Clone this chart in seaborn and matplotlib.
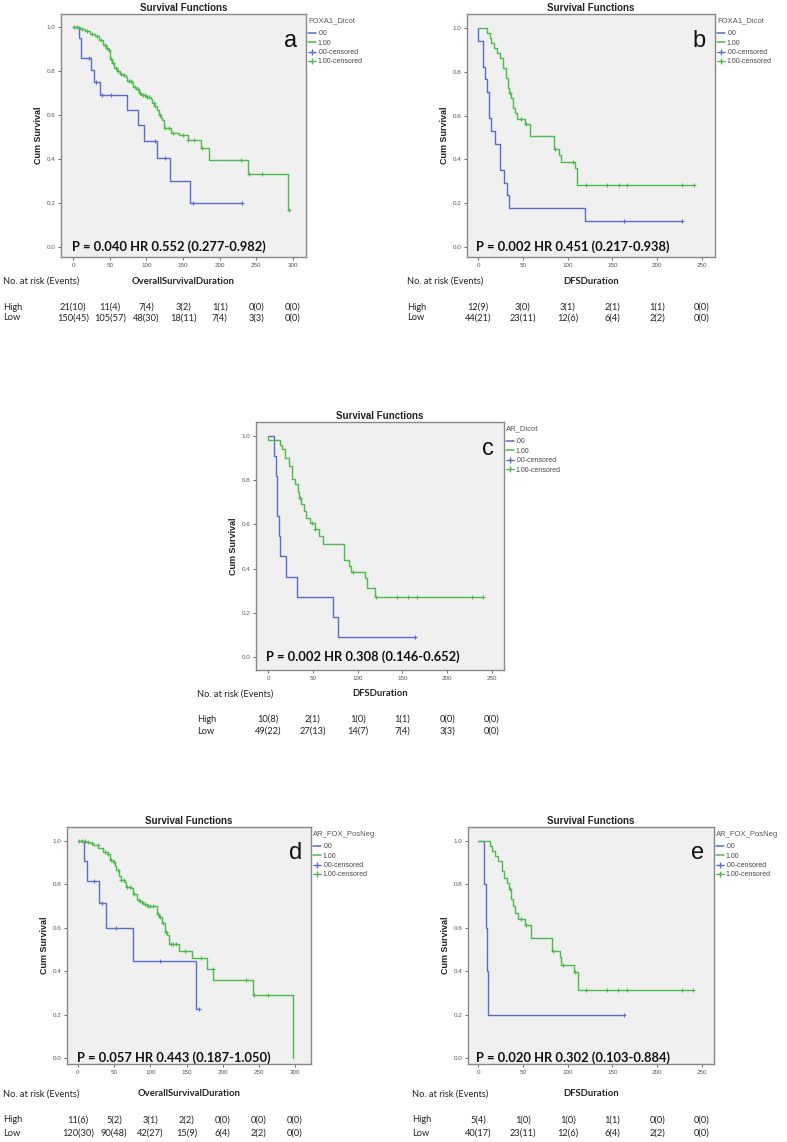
import numpy as np
import pandas as pd
import matplotlib
matplotlib.use("Agg")
import matplotlib.pyplot as plt
import seaborn as sns
from matplotlib.lines import Line2D
from matplotlib import transforms

sns.set_theme(style="white")
plt.rcParams['font.family'] = ['Liberation Sans', 'DejaVu Sans']

# ------------------------------------------------------------------ data
# Panel a (Overall survival, FOXA1_Dicot)
a_blue_t = [8, 11, 24, 28, 37, 74, 89, 97, 115, 132, 160]
a_blue_s = [0.952, 0.857, 0.805, 0.752, 0.693, 0.623, 0.556, 0.483, 0.405, 0.302, 0.201]
a_blue_c = [22, 31, 39, 52, 112, 126, 164, 230]
a_green_t = [9, 16, 23, 30, 36, 41, 45, 48, 50, 51, 53, 56, 60, 64, 68, 72, 74, 80, 82, 86,
             90, 93, 100, 106, 108, 111, 114, 117, 120, 122, 124, 134, 145, 157, 174, 185, 239, 293]
a_green_s = [0.991, 0.98, 0.968, 0.957, 0.939, 0.919, 0.904, 0.894, 0.877, 0.854, 0.836, 0.813,
             0.802, 0.787, 0.783, 0.772, 0.755, 0.745, 0.726, 0.717, 0.702, 0.691, 0.684, 0.672,
             0.653, 0.641, 0.623, 0.600, 0.585, 0.578, 0.540, 0.517, 0.509, 0.486, 0.448, 0.395,
             0.334, 0.167]
a_green_c = [2, 5, 12, 19, 26, 33, 38, 43, 46, 49, 52, 55, 58, 62, 66, 70, 76, 79, 84, 88, 92,
             95, 98, 101, 104, 110, 112, 118, 126, 131, 137, 150, 157, 165, 176, 229, 240, 258, 295]

# Panel b (DFS, FOXA1_Dicot)
b_blue_t = [0, 6, 8, 10, 12, 14, 19, 25, 29, 32, 35, 119]
b_blue_s = [0.941, 0.824, 0.765, 0.706, 0.588, 0.529, 0.471, 0.353, 0.294, 0.235, 0.176, 0.118]
b_blue_c = [163, 228]
b_green_t = [10, 13, 15, 18, 21, 24, 28, 31, 34, 35, 37, 39, 41, 44, 52, 58, 85, 90, 93, 108, 111]
b_green_s = [0.977, 0.955, 0.932, 0.909, 0.886, 0.864, 0.818, 0.773, 0.727, 0.705, 0.68, 0.633,
             0.61, 0.585, 0.56, 0.508, 0.448, 0.42, 0.39, 0.36, 0.285]
b_green_c = [36, 48, 53, 86, 106, 120, 144, 157, 166, 228, 241]

# Panel c (DFS, AR_Dicot)
c_blue_t = [7, 9, 10, 10.5, 12, 13.4, 20, 32, 72, 78]
c_blue_s = [0.909, 0.818, 0.727, 0.636, 0.545, 0.455, 0.364, 0.273, 0.182, 0.091]
c_blue_c = [164]
c_green_t = [0, 13, 16, 19, 23, 27, 30, 33, 35, 37, 40, 42, 47, 52, 57, 61, 85, 90, 93, 108, 111, 119]
c_green_s = [0.98, 0.961, 0.941, 0.902, 0.863, 0.804, 0.784, 0.745, 0.72, 0.69, 0.66, 0.63,
             0.606, 0.58, 0.545, 0.512, 0.44, 0.41, 0.385, 0.355, 0.31, 0.27]
c_green_c = [36, 49, 53, 95, 120, 144, 156, 166, 228, 240]

# Panel d (Overall survival, AR_FOX_PosNeg)
d_blue_t = [8, 13, 29, 39, 76, 163]
d_blue_s = [0.909, 0.818, 0.716, 0.597, 0.448, 0.224]
d_blue_c = [22, 33, 53, 113, 167]
d_green_t = [10, 17, 21, 28, 35, 41, 44, 49, 51, 53, 56, 59, 64, 66, 73, 76, 81, 86, 90, 95,
             109, 112, 116, 120, 123, 126, 139, 157, 178, 187, 242, 297]
d_green_s = [0.996, 0.99, 0.983, 0.969, 0.95, 0.94, 0.914, 0.905, 0.883, 0.865, 0.838, 0.82,
             0.81, 0.79, 0.785, 0.755, 0.73, 0.72, 0.708, 0.70, 0.665, 0.65, 0.62, 0.582, 0.565,
             0.525, 0.495, 0.462, 0.412, 0.36, 0.289, 0.0]
d_green_c = [2, 5, 9, 14, 20, 27, 38, 42, 46, 50, 55, 60, 63, 68, 72, 78, 84, 88, 92, 97, 100,
             103, 110, 114, 118, 122, 128, 131, 135, 148, 170, 186, 232, 243, 263]

# Panel e (DFS, AR_FOX_PosNeg)
e_blue_t = [7, 9, 10, 11]
e_blue_s = [0.8, 0.6, 0.4, 0.2]
e_blue_c = [163]
e_green_t = [13, 16, 19, 22, 27, 29, 32, 35, 37, 39, 41, 45, 52, 59, 83, 91, 93, 107, 112]
e_green_s = [0.977, 0.955, 0.932, 0.909, 0.864, 0.83, 0.805, 0.78, 0.734, 0.7, 0.668, 0.642,
             0.614, 0.555, 0.495, 0.465, 0.43, 0.395, 0.315]
e_green_c = [36, 48, 53, 84, 95, 108, 121, 144, 156, 166, 228, 240]

# Numbers at risk tables
a_high = ["21(10)", "11(4)", "7(4)", "3(2)", "1(1)", "0(0)", "0(0)"]
a_low = ["150(45)", "105(57)", "48(30)", "18(11)", "7(4)", "3(3)", "0(0)"]
b_high = ["12(9)", "3(0)", "3(1)", "2(1)", "1(1)", "0(0)"]
b_low = ["44(21)", "23(11)", "12(6)", "6(4)", "2(2)", "0(0)"]
c_high = ["10(8)", "2(1)", "1(0)", "1(1)", "0(0)", "0(0)"]
c_low = ["49(22)", "27(13)", "14(7)", "7(4)", "3(3)", "0(0)"]
d_high = ["11(6)", "5(2)", "3(1)", "2(2)", "0(0)", "0(0)", "0(0)"]
d_low = ["120(30)", "90(48)", "42(27)", "15(9)", "6(4)", "2(2)", "0(0)"]
e_high = ["5(4)", "1(0)", "1(0)", "1(1)", "0(0)", "0(0)"]
e_low = ["40(17)", "23(11)", "12(6)", "6(4)", "2(2)", "0(0)"]

a_ticks = [0, 50, 100, 150, 200, 250, 300]
b_ticks = [0, 50, 100, 150, 200, 250]

legend_titles = ["FOXA1_Dicot", "FOXA1_Dicot", "AR_Dicot", "AR_FOX_PosNeg", "AR_FOX_PosNeg"]
group_labels = [".00", "1.00", ".00-censored", "1.00-censored"]
p_texts = ["P = 0.040 HR 0.552 (0.277-0.982)", "P = 0.002 HR 0.451 (0.217-0.938)",
           "P = 0.002 HR 0.308 (0.146-0.652)", "P = 0.057 HR 0.443 (0.187-1.050)",
           "P = 0.020 HR 0.302 (0.103-0.884)"]
letters = ["a", "b", "c", "d", "e"]
xlabels = ["OverallSurvivalDuration", "DFSDuration", "DFSDuration",
           "OverallSurvivalDuration", "DFSDuration"]

# ------------------------------------------------------------------ layout
W, H = 787, 1142
BLUE = "#5a6cca"
GREEN = "#4cbb4c"


def fy(px):
    return 1 - px / H


panels = [
    dict(box=(61, 14, 306, 257), xlim=(-16.4, 317.7), ylim=(-0.045, 1.059), ticks=a_ticks,
         blue=(a_blue_t, a_blue_s, a_blue_c), green=(a_green_t, a_green_s, a_green_c),
         high=a_high, low=a_low, rows=(281, 307, 318), labx=3),
    dict(box=(467, 14, 715, 257), xlim=(-12.3, 264.5), ylim=(-0.046, 1.064), ticks=b_ticks,
         blue=(b_blue_t, b_blue_s, b_blue_c), green=(b_green_t, b_green_s, b_green_c),
         high=b_high, low=b_low, rows=(281, 307, 318), labx=407),
    dict(box=(256, 422, 504, 670), xlim=(-13.4, 263.4), ylim=(-0.059, 1.063), ticks=b_ticks,
         blue=(c_blue_t, c_blue_s, c_blue_c), green=(c_green_t, c_green_s, c_green_c),
         high=c_high, low=c_low, rows=(694, 719, 731), labx=197),
    dict(box=(67, 827, 311, 1064), xlim=(-15.2, 322), ylim=(-0.028, 1.065), ticks=a_ticks,
         blue=(d_blue_t, d_blue_s, d_blue_c), green=(d_green_t, d_green_s, d_green_c),
         high=d_high, low=d_low, rows=(1094, 1120, 1133), labx=3),
    dict(box=(468, 827, 714, 1064), xlim=(-11.2, 263.4), ylim=(-0.028, 1.065), ticks=b_ticks,
         blue=(e_blue_t, e_blue_s, e_blue_c), green=(e_green_t, e_green_s, e_green_c),
         high=e_high, low=e_low, rows=(1094, 1120, 1133), labx=412),
]

fig = plt.figure(figsize=(W / 100, H / 100), dpi=100)
fig.patch.set_facecolor("white")


def step_lookup(times, survs, t):
    s = 1.0
    for ti, si in zip(times, survs):
        if ti <= t:
            s = si
    return s


TAB_FONT = ['Lato', 'DejaVu Sans']
TAB_SIZE = 6.7

for i, p in enumerate(panels):
    l, t, r, b = p["box"]
    ax = fig.add_axes([l / W, 1 - b / H, (r - l) / W, (b - t) / H])
    ax.set_facecolor("#f0f0f0")
    for (times, survs, cens), col in ((p["blue"], BLUE), (p["green"], GREEN)):
        end = max(max(times), max(cens))
        xs = [0] + list(times) + [end]
        ys = [1.0] + list(survs) + [survs[-1]]
        df = pd.DataFrame({"t": xs, "s": ys})
        sns.lineplot(data=df, x="t", y="s", ax=ax, color=col, lw=1.0,
                     drawstyle="steps-post", estimator=None, sort=False)
        cdf = pd.DataFrame({"t": cens, "s": [step_lookup(times, survs, c) for c in cens]})
        sns.scatterplot(data=cdf, x="t", y="s", ax=ax, color=col, marker="+", s=9,
                        linewidth=0.8, zorder=3)
    ax.set_xlim(*p["xlim"])
    ax.set_ylim(*p["ylim"])
    ax.set_xticks(p["ticks"])
    ax.set_xticklabels([str(v) for v in p["ticks"]])
    ax.set_yticks([0, 0.2, 0.4, 0.6, 0.8, 1.0])
    ax.set_yticklabels(["0.0", "0.2", "0.4", "0.6", "0.8", "1.0"])
    ax.tick_params(axis="both", labelsize=4.5, colors="#555555", length=2.5, width=0.6,
                   pad=1.5, direction="out", left=True, bottom=True)
    for sp in ax.spines.values():
        sp.set_color("#888888")
        sp.set_linewidth(1.0)
    ax.set_xlabel("")
    ax.set_ylabel("Cum Survival", fontsize=6.5, fontweight="bold", labelpad=3, color="#222222")
    ax.set_title("Survival Functions", fontsize=7, fontweight="bold", pad=2.5, color="#222222")

    ax.text(-2, 0.0, p_texts[i], fontsize=9.3, fontweight="bold", ha="left", va="center",
            family=TAB_FONT, color="#111111")
    ax.text(0.935, 0.89, letters[i], transform=ax.transAxes, fontsize=17, ha="center",
            va="center", color="#111111")

    handles = [Line2D([], [], color=BLUE, lw=1.1), Line2D([], [], color=GREEN, lw=1.1),
               Line2D([], [], color=BLUE, lw=0.8, marker="+", ms=4),
               Line2D([], [], color=GREEN, lw=0.8, marker="+", ms=4)]
    leg = ax.legend(handles, group_labels, title=legend_titles[i], loc="upper left",
                    bbox_to_anchor=(1.01, 0.985), frameon=False, fontsize=5,
                    title_fontsize=5.5, handlelength=1.1, handletextpad=0.2,
                    labelspacing=0.35, borderpad=0, borderaxespad=0)
    leg._legend_box.align = "left"
    leg._legend_box.sep = 4
    leg.get_title().set_color("#555555")
    for txt in leg.get_texts():
        txt.set_color("#444444")

    # numbers-at-risk table
    yl, yh, ylow = p["rows"]
    fig.text(p["labx"] / W, fy(yl), "No. at risk (Events)", fontsize=TAB_SIZE, family=TAB_FONT,
             ha="left", va="center", color="#222222")
    fig.text((l + r) / 2 / W, fy(yl), xlabels[i], fontsize=6.8, fontweight="bold",
             family=TAB_FONT, ha="center", va="center", color="#222222")
    fig.text(p["labx"] / W, fy(yh), "High", fontsize=TAB_SIZE, family=TAB_FONT, ha="left",
             va="center", color="#222222")
    fig.text(p["labx"] / W, fy(ylow), "Low", fontsize=TAB_SIZE, family=TAB_FONT, ha="left",
             va="center", color="#222222")
    trans = transforms.blended_transform_factory(ax.transData, fig.transFigure)
    for xv, hv, lv in zip(p["ticks"], p["high"], p["low"]):
        ax.text(xv, fy(yh), hv, transform=trans, fontsize=TAB_SIZE, family=TAB_FONT,
                ha="center", va="center", color="#222222", clip_on=False)
        ax.text(xv, fy(ylow), lv, transform=trans, fontsize=TAB_SIZE, family=TAB_FONT,
                ha="center", va="center", color="#222222", clip_on=False)

fig.savefig("out.png", dpi=100, facecolor="white")
